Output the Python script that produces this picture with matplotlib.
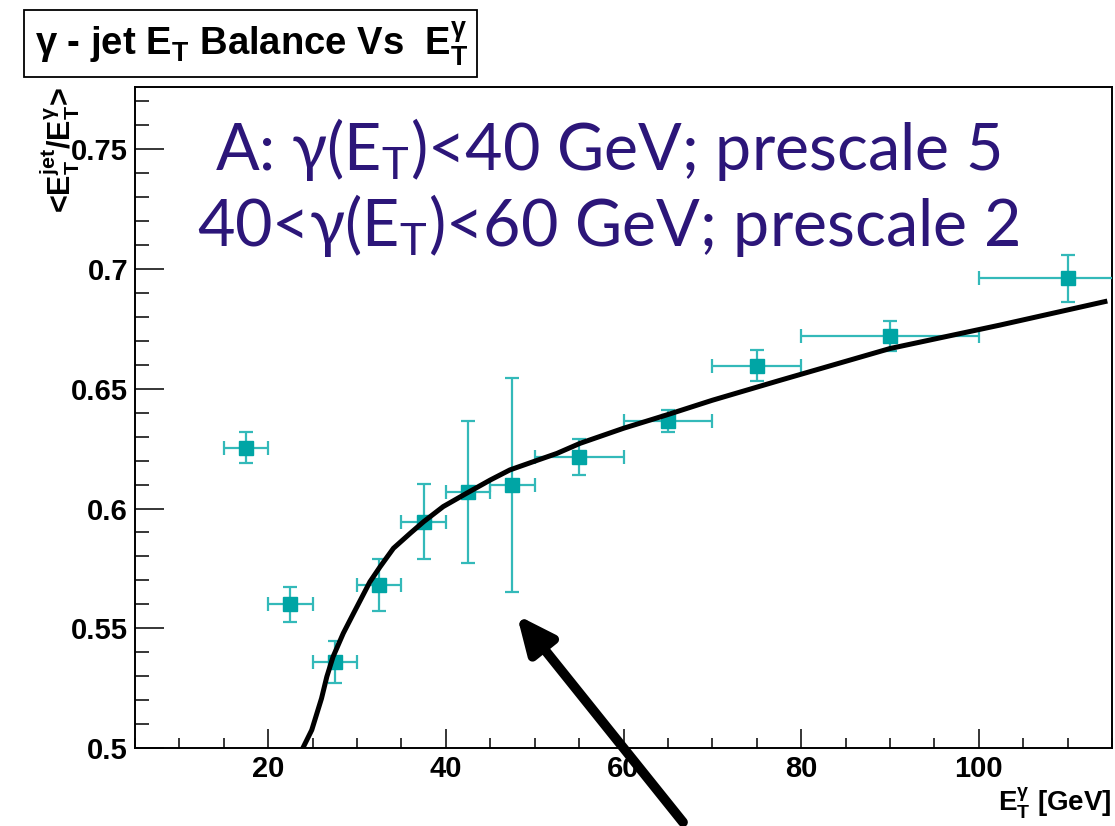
import matplotlib

matplotlib.use("Agg")
import matplotlib.pyplot as plt
from matplotlib.patches import Rectangle
from matplotlib.ticker import MultipleLocator

# profile points: <E_T^jet / E_T^gamma> per photon E_T bin
bin_lo = [15, 20, 25, 30, 35, 40, 45, 50, 60, 70, 80, 100]
bin_hi = [20, 25, 30, 35, 40, 45, 50, 60, 70, 80, 100, 120]
bin_center = [17.5, 22.5, 27.5, 32.5, 37.5, 42.5, 47.5, 55, 65, 75, 90, 110]
balance = [0.6253, 0.5601, 0.5358, 0.5680, 0.5945, 0.6070, 0.6098,
           0.6216, 0.6367, 0.6596, 0.6720, 0.6961]
balance_err = [0.0065, 0.0073, 0.0087, 0.0110, 0.0157, 0.0296, 0.0447,
               0.0076, 0.0046, 0.0064, 0.0063, 0.0099]

# fitted curve, sampled
fit_x = [23.9, 24.9, 26.0, 26.6, 27.3, 28.45, 29.6, 31.45, 32.6, 34.1,
         36.0, 37.5, 39.7, 42.3, 45.0, 47.2, 49.8, 52.5, 55.1, 60.0,
         64.8, 70.0, 77.6, 90.0, 102.4, 114.2]
fit_y = [0.500, 0.5075, 0.5207, 0.5298, 0.5381, 0.5479, 0.5562, 0.5694,
         0.5757, 0.5834, 0.5897, 0.5945, 0.6008, 0.6063, 0.6119, 0.6161,
         0.6195, 0.6230, 0.6272, 0.6335, 0.6390, 0.6452, 0.6535, 0.6668,
         0.6766, 0.6864]

x_range = (5, 115)
y_range = (0.5, 0.776)
y_ticks = [0.5, 0.55, 0.6, 0.65, 0.7, 0.75]
y_tick_labels = ["0.5", "0.55", "0.6", "0.65", "0.7", "0.75"]
x_ticks = [20, 40, 60, 80, 100]

note_lines = ["A: γ(E$_T$)<40 GeV; prescale 5",
              "40<γ(E$_T$)<60 GeV; prescale 2"]

plt.rcParams["mathtext.default"] = "regular"
root_font = {"family": ["Liberation Sans", "DejaVu Sans"], "weight": "bold"}
note_font = {"family": ["Lato", "DejaVu Sans"]}

W, H = 1115, 826
fig = plt.figure(figsize=(W / 100, H / 100), dpi=100)
ax = fig.add_axes([135 / W, 1 - 748 / H, (1112 - 135) / W, (748 - 87) / H])

xerr = [[c - lo for c, lo in zip(bin_center, bin_lo)],
        [hi - c for c, hi in zip(bin_center, bin_hi)]]
ax.errorbar(bin_center, balance, yerr=balance_err, xerr=xerr, fmt="s",
            color="#00A5A5", ecolor="#33B9B9", elinewidth=1.6, capsize=5,
            capthick=1.6, markersize=10, zorder=3)
ax.plot(fit_x, fit_y, color="black", linewidth=3.6, zorder=4,
        solid_joinstyle="round")

ax.set_xlim(*x_range)
ax.set_ylim(*y_range)
ax.set_xticks(x_ticks)
ax.set_yticks(y_ticks)
ax.set_yticklabels(y_tick_labels)
ax.xaxis.set_minor_locator(MultipleLocator(5))
ax.yaxis.set_minor_locator(MultipleLocator(0.01))
ax.tick_params(which="both", direction="in", top=False, right=False,
               width=1.1, labelsize=21, pad=5)
ax.tick_params(axis="y", which="major", length=21)
ax.tick_params(axis="y", which="minor", length=10)
ax.tick_params(axis="x", which="major", length=14)
ax.tick_params(axis="x", which="minor", length=7)
for lbl in ax.get_xticklabels() + ax.get_yticklabels():
    lbl.set_fontfamily(root_font["family"])
    lbl.set_fontweight("bold")
for sp in ax.spines.values():
    sp.set_linewidth(1.4)

ax.set_xlabel("E$_T^γ$ [GeV]", loc="right", fontsize=20, labelpad=2,
              **root_font)
ax.set_ylabel("<E$_T^{jet}$/E$_T^γ$>", loc="top", fontsize=22, **root_font)
ax.yaxis.set_label_coords(-0.054, 1.0)

# title box in the top-left corner
fig.patches.append(Rectangle((24 / W, 1 - 77 / H), (477 - 24) / W, 67 / H,
                             transform=fig.transFigure, facecolor="white",
                             edgecolor="black", linewidth=1.3))
fig.text(35 / W, 1 - 44 / H, "γ - jet E$_T$ Balance Vs  E$_T^γ$",
         fontsize=27.5, va="center", ha="left", **root_font)

# trigger / prescale note
fig.text(608 / W, 1 - 170 / H, note_lines[0], fontsize=46.5, color="#2C1679",
         ha="center", va="baseline", **note_font)
fig.text(608 / W, 1 - 246 / H, note_lines[1], fontsize=46.5, color="#2C1679",
         ha="center", va="baseline", **note_font)

# arrow pointing at the 45-50 GeV bin
ax.annotate("", xy=(48.0, 0.5555), xytext=(66.7, 0.469),
            xycoords="data", textcoords="data", annotation_clip=False,
            arrowprops=dict(arrowstyle="-|>,head_length=2.2,head_width=1.0",
                            color="black", linewidth=7, shrinkA=0,
                            shrinkB=0))

fig.savefig("out.png", dpi=100)
